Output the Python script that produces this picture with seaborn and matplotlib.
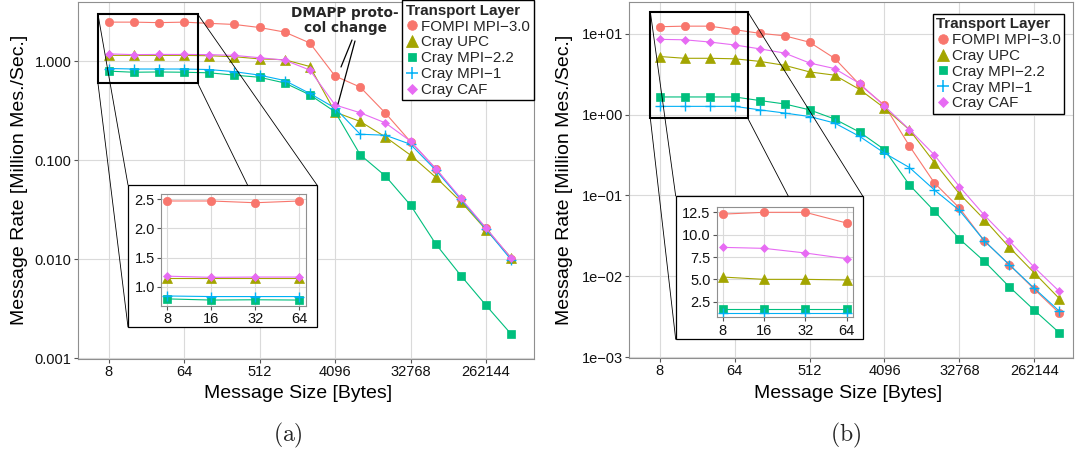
import numpy as np
import pandas as pd
import matplotlib
matplotlib.use("Agg")
import matplotlib.pyplot as plt
from matplotlib.lines import Line2D
from matplotlib.patches import Rectangle
import seaborn as sns

# ---------------- data ----------------
sizes = [8, 16, 32, 64, 128, 256, 512, 1024, 2048, 4096, 8192, 16384,
         32768, 65536, 131072, 262144, 524288]
layers = ["FOMPI MPI−3.0", "Cray UPC", "Cray MPI−2.2", "Cray MPI−1", "Cray CAF"]

# panel (a)
fompi_a = [2.47, 2.47, 2.44, 2.47, 2.40, 2.34, 2.18, 1.96, 1.52, 0.705, 0.545, 0.298, 0.153, 0.082, 0.040, 0.0205, 0.0101]
upc_a   = [1.14, 1.14, 1.14, 1.14, 1.13, 1.105, 1.05, 1.03, 0.88, 0.305, 0.245, 0.171, 0.112, 0.067, 0.038, 0.0197, 0.0103]
mpi22_a = [0.79, 0.77, 0.775, 0.77, 0.76, 0.72, 0.685, 0.60, 0.455, 0.307, 0.113, 0.069, 0.035, 0.0142, 0.0068, 0.0034, 0.00174]
mpi1_a  = [0.84, 0.83, 0.83, 0.83, 0.82, 0.78, 0.72, 0.635, 0.47, 0.335, 0.182, 0.178, 0.144, 0.079, 0.040, 0.0200, 0.0098]
caf_a   = [1.18, 1.16, 1.165, 1.165, 1.16, 1.14, 1.08, 1.02, 0.81, 0.36, 0.30, 0.237, 0.155, 0.082, 0.041, 0.0205, 0.0102]

# panel (b)
fompi_b = [12.3, 12.5, 12.5, 11.3, 10.2, 9.5, 7.9, 5.0, 2.37, 1.31, 0.41, 0.143, 0.070, 0.0274, 0.0139, 0.0069, 0.0035]
upc_b   = [5.26, 5.0, 5.0, 4.93, 4.58, 4.09, 3.39, 3.09, 2.06, 1.21, 0.65, 0.256, 0.105, 0.0504, 0.0228, 0.0110, 0.0053]
mpi22_b = [1.66, 1.66, 1.66, 1.66, 1.50, 1.36, 1.15, 0.885, 0.61, 0.37, 0.135, 0.064, 0.029, 0.0153, 0.0074, 0.0038, 0.0020]
mpi1_b  = [1.27, 1.27, 1.27, 1.27, 1.15, 1.05, 0.95, 0.79, 0.54, 0.335, 0.222, 0.117, 0.0655, 0.0274, 0.0139, 0.0071, 0.0037]
caf_b   = [8.58, 8.47, 7.95, 7.31, 6.55, 5.8, 4.37, 3.73, 2.44, 1.28, 0.655, 0.317, 0.129, 0.057, 0.0274, 0.0129, 0.0065]

x_ticks = [8, 64, 512, 4096, 32768, 262144]
x_tick_labels = ["8", "64", "512", "4096", "32768", "262144"]
ya_ticks = [0.001, 0.01, 0.1, 1.0]
ya_tick_labels = ["0.001", "0.010", "0.100", "1.000"]
yb_ticks = [1e-3, 1e-2, 1e-1, 1e0, 1e1]
yb_tick_labels = ["1e−03", "1e−02", "1e−01", "1e+00", "1e+01"]
inset_x_ticks = [8, 16, 32, 64]
inset_a_y_ticks = [1.0, 1.5, 2.0, 2.5]
inset_b_y_ticks = [2.5, 5.0, 7.5, 10.0, 12.5]

# ---------------- style ----------------
colors = ["#F8766D", "#A3A500", "#00BF7D", "#00B0F6", "#E76BF3"]
markers = ["o", "^", "s", "+", "D"]
msizes = [6.0, 7.0, 5.4, 7.8, 4.3]
mews = [0.5, 0.5, 0.5, 1.0, 0.5]

W, H, DPI = 1075, 454, 100
sns.set_theme(style="white")
plt.rcParams["font.family"] = ["Liberation Sans", "DejaVu Sans"]
plt.rcParams["mathtext.fontset"] = "cm"

fig = plt.figure(figsize=(W / DPI, H / DPI), dpi=DPI)
fig.patch.set_facecolor("white")


def fr(x0, y0, x1, y1):
    return [x0 / W, 1 - y1 / H, (x1 - x0) / W, (y1 - y0) / H]


def make_df(series):
    rows = []
    for name, vals in zip(layers, series):
        for s, v in zip(sizes, vals):
            rows.append({"size": s, "rate": v, "layer": name})
    return pd.DataFrame(rows)


def style_axes(ax, labelsize=10.5):
    ax.set_facecolor("white")
    for s in ax.spines.values():
        s.set_visible(True)
        s.set_color("#8f8f8f")
        s.set_linewidth(0.8)
    ax.grid(True, which="major", color="#dadada", linewidth=0.8)
    ax.grid(False, which="minor")
    ax.tick_params(which="major", direction="out", length=3.0, width=0.8,
                   color="#555555", labelsize=labelsize, labelcolor="#111111",
                   pad=1.5, left=True, bottom=True)
    ax.tick_params(which="minor", length=0, left=False, bottom=False)
    ax.set_axisbelow(True)
    ax.set_xlabel("")
    ax.set_ylabel("")


def draw_series(ax, df):
    for name, c, m, ms, mw in zip(layers, colors, markers, msizes, mews):
        sub = df[df["layer"] == name]
        sns.lineplot(data=sub, x="size", y="rate", color=c, marker=m,
                     markersize=ms, markeredgecolor=c, markerfacecolor=c,
                     markeredgewidth=mw, linewidth=0.8, ax=ax,
                     estimator=None, legend=False)


def add_legend(ax, anchor):
    handles = [Line2D([], [], marker=m, color=c, linestyle="none",
                      markersize=ms * 1.15, markeredgecolor=c,
                      markeredgewidth=mw * 1.1)
               for c, m, ms, mw in zip(colors, markers, msizes, mews)]
    leg = ax.legend(handles, layers, title="Transport Layer", loc="upper right",
                    bbox_to_anchor=anchor, bbox_transform=fig.transFigure,
                    frameon=True, fancybox=False, framealpha=1,
                    edgecolor="black", fontsize=10.9,
                    title_fontproperties={"weight": "bold", "family": "Liberation Sans", "size": 10.9},
                    handlelength=0.85, handletextpad=0.18, labelspacing=0.12,
                    borderpad=0.22, borderaxespad=0, alignment="left")
    leg.get_frame().set_linewidth(1.0)
    leg.set_zorder(10)


def zoom_decor(ax, rect_data, box_px):
    (xa, xb), (ya, yb) = rect_data
    ax.add_patch(Rectangle((xa, ya), xb - xa, yb - ya, fill=False,
                           edgecolor="black", linewidth=1.5, zorder=6))
    to_px = ax.transData
    corners_data = [(xa, yb), (xa, ya), (xb, yb), (xb, ya)]  # TL, BL, TR, BR
    bx0, by0, bx1, by1 = box_px
    corners_box = [(bx0, by0), (bx0, by1), (bx1, by0), (bx1, by1)]
    for (dx, dy), (px, py) in zip(corners_data, corners_box):
        X, Y = to_px.transform((dx, dy))
        fx, fy = fig.transFigure.inverted().transform((X, Y))
        fig.add_artist(Line2D([fx, px / W], [fy, 1 - py / H],
                              transform=fig.transFigure, color="black",
                              linewidth=0.6, zorder=1.5))
    fig.add_artist(Rectangle((bx0 / W, 1 - by1 / H), (bx1 - bx0) / W,
                             (by1 - by0) / H, transform=fig.transFigure,
                             facecolor="white", edgecolor="black",
                             linewidth=0.9, zorder=2))


df_a = make_df([fompi_a, upc_a, mpi22_a, mpi1_a, caf_a])
df_b = make_df([fompi_b, upc_b, mpi22_b, mpi1_b, caf_b])

# ---------------- panel (a) ----------------
ax_a = fig.add_axes(fr(77.5, 2, 534, 358.5))
ax_a.set_zorder(1)
draw_series(ax_a, df_a)
ax_a.set_xscale("log", base=2)
ax_a.set_yscale("log")
ax_a.set_xlim(2 ** 1.768, 2 ** 19.905)
ax_a.set_ylim(10 ** -3.005, 10 ** 0.596)
ax_a.set_xticks(x_ticks)
ax_a.set_xticklabels(x_tick_labels)
ax_a.set_yticks(ya_ticks)
ax_a.set_yticklabels(ya_tick_labels)
ax_a.xaxis.set_minor_locator(matplotlib.ticker.NullLocator())
ax_a.yaxis.set_minor_locator(matplotlib.ticker.NullLocator())
style_axes(ax_a)
add_legend(ax_a, (533.5 / W, 1 - 0.5 / H))

# annotation
fig.text(345 / W, 1 - 20.5 / H, "DMAPP proto-\ncol change", ha="center", va="center",
         fontsize=9.8, fontweight="bold", family="DejaVu Sans", linespacing=1.05,
         zorder=5)
fig.add_artist(Line2D([352 / W, 341 / W], [1 - 40 / H, 1 - 67 / H],
                      transform=fig.transFigure, color="black", linewidth=0.9, zorder=5))
fig.add_artist(Line2D([355 / W, 338 / W], [1 - 41 / H, 1 - 104 / H],
                      transform=fig.transFigure, color="black", linewidth=0.9, zorder=5))

zoom_decor(ax_a, ((2 ** 2.58, 2 ** 6.54), (0.60, 2.98)), (128, 185, 317, 327))

ax_ai = fig.add_axes(fr(161, 194, 306, 306))
ax_ai.set_zorder(3)
draw_series(ax_ai, df_a[df_a["size"] <= 64])
ax_ai.set_xscale("log", base=2)
ax_ai.set_xlim(2 ** 2.857, 2 ** 6.152)
ax_ai.set_ylim(0.668, 2.59)
ax_ai.set_xticks(inset_x_ticks)
ax_ai.set_xticklabels([str(v) for v in inset_x_ticks])
ax_ai.set_yticks(inset_a_y_ticks)
ax_ai.set_yticklabels([f"{v:.1f}" for v in inset_a_y_ticks])
ax_ai.xaxis.set_minor_locator(matplotlib.ticker.NullLocator())
style_axes(ax_ai)

# ---------------- panel (b) ----------------
ax_b = fig.add_axes(fr(629.4, 2, 1073, 357.5))
ax_b.set_zorder(1)
draw_series(ax_b, df_b)
ax_b.set_xscale("log", base=2)
ax_b.set_yscale("log")
ax_b.set_xlim(2 ** 1.783, 2 ** 19.55)
ax_b.set_ylim(10 ** -3.006, 10 ** 1.396)
ax_b.set_xticks(x_ticks)
ax_b.set_xticklabels(x_tick_labels)
ax_b.set_yticks(yb_ticks)
ax_b.set_yticklabels(yb_tick_labels)
ax_b.xaxis.set_minor_locator(matplotlib.ticker.NullLocator())
ax_b.yaxis.set_minor_locator(matplotlib.ticker.NullLocator())
style_axes(ax_b)
add_legend(ax_b, (1064 / W, 1 - 14 / H))

zoom_decor(ax_b, ((2 ** 2.62, 2 ** 6.52), (0.91, 18.9)), (675.7, 196, 862.7, 339.3))

ax_bi = fig.add_axes(fr(716.7, 206.7, 852.7, 317.3))
ax_bi.set_zorder(3)
draw_series(ax_bi, df_b[df_b["size"] <= 64])
ax_bi.set_xscale("log", base=2)
ax_bi.set_xlim(2 ** 2.855, 2 ** 6.145)
ax_bi.set_ylim(0.755, 13.13)
ax_bi.set_xticks(inset_x_ticks)
ax_bi.set_xticklabels([str(v) for v in inset_x_ticks])
ax_bi.set_yticks(inset_b_y_ticks)
ax_bi.set_yticklabels([f"{v:.1f}" for v in inset_b_y_ticks])
ax_bi.xaxis.set_minor_locator(matplotlib.ticker.NullLocator())
style_axes(ax_bi)

# ---------------- axis titles & panel labels ----------------
for cx in (19.5, 564.5):
    fig.text(cx / W, 1 - 180 / H, "Message Rate [Million Mes./Sec.]", rotation=90,
             ha="center", va="center", fontsize=14, color="black")
for cx in (298, 848):
    fig.text(cx / W, 1 - 393 / H, "Message Size [Bytes]", ha="center", va="center",
             fontsize=14, color="black")
fig.text(288 / W, 1 - 435 / H, r"$\mathrm{(a)}$", ha="center", va="center", fontsize=17)
fig.text(845.5 / W, 1 - 435 / H, r"$\mathrm{(b)}$", ha="center", va="center", fontsize=17)

fig.savefig("out.png", dpi=DPI, facecolor="white")
